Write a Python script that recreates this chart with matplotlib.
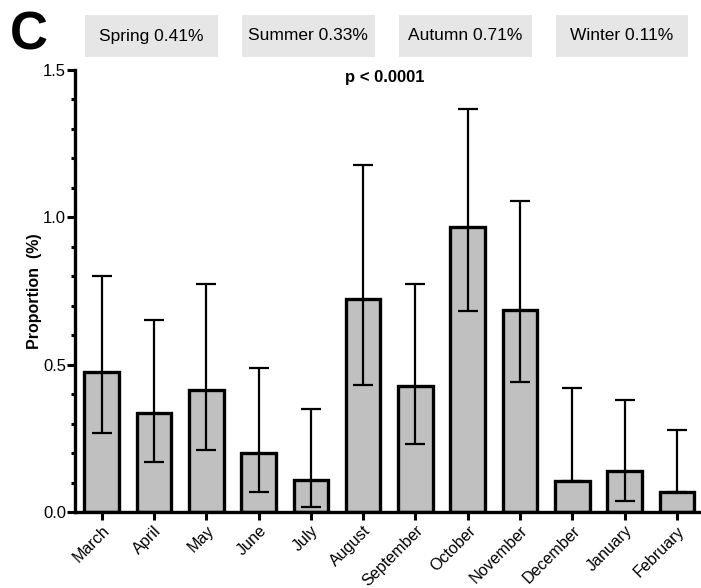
import matplotlib
matplotlib.use("Agg")
import matplotlib.pyplot as plt
import matplotlib.transforms as mtransforms
from matplotlib.patches import Rectangle
from matplotlib.ticker import MultipleLocator
import numpy as np

months = ["March", "April", "May", "June", "July", "August", "September",
          "October", "November", "December", "January", "February"]
proportion = [0.474, 0.336, 0.415, 0.200, 0.110, 0.723, 0.426, 0.968, 0.687, 0.106, 0.140, 0.069]
ci_upper = [0.802, 0.652, 0.773, 0.489, 0.349, 1.176, 0.773, 1.367, 1.055, 0.421, 0.380, 0.279]
ci_lower = [0.268, 0.168, 0.209, 0.067, 0.018, 0.431, 0.230, 0.682, 0.440, 0.106, 0.036, 0.069]
seasons = ["Spring 0.41%", "Summer 0.33%", "Autumn 0.71%", "Winter 0.11%"]
season_center_month = [1, 4, 7, 10]
p_text = "p < 0.0001"
panel = "C"

plt.rcParams['font.family'] = ['Liberation Sans', 'DejaVu Sans']

fig = plt.figure(figsize=(7.01, 5.88), dpi=100)
ax = fig.add_axes([75/701, 1-512/588, (701-75)/701, (512-70)/588])

x = np.arange(len(months))
prop = np.array(proportion)
up = np.array(ci_upper) - prop
lo = prop - np.array(ci_lower)

ax.bar(x, prop, width=0.66, color="#c0c0c0", edgecolor="black", linewidth=2.4, zorder=2)
ax.errorbar(x, prop, yerr=[lo, up], fmt="none", ecolor="black", elinewidth=1.6,
            capsize=7, capthick=1.6, zorder=3)

ax.set_xlim(-0.51, 11.46)
ax.set_ylim(0, 1.5)
ax.yaxis.set_minor_locator(MultipleLocator(0.1))
ax.set_yticks([0, 0.5, 1.0, 1.5])
ax.set_yticklabels(["0.0", "0.5", "1.0", "1.5"], fontsize=12)
ax.set_xticks(x)
ax.set_xticklabels(months, rotation=45, ha="right", va="top", rotation_mode="anchor", fontsize=11.6)
ax.tick_params(axis="both", which="major", direction="out", width=2.2, length=5.5)
ax.tick_params(axis="y", which="minor", direction="out", width=2.2, length=3)
ax.tick_params(axis="y", which="major", pad=1)
ax.tick_params(axis="x", which="major", pad=2.5)

for s in ["top", "right"]:
    ax.spines[s].set_visible(False)
for s in ["left", "bottom"]:
    ax.spines[s].set_linewidth(2.4)

ax.set_ylabel("Proportion  (%)", fontsize=11.5, fontweight="bold", labelpad=1)

ax.text(5.42, 1.475, p_text, ha="center", va="center", fontsize=12, fontweight="bold")

trans = mtransforms.blended_transform_factory(ax.transData, fig.transFigure)
for label, c in zip(seasons, season_center_month):
    w = 2.54
    rect = Rectangle((c - w/2 - 0.05, 1-57/588), w, 42/588, transform=trans,
                     facecolor="#e6e6e6", edgecolor="none", clip_on=False, zorder=0)
    ax.add_patch(rect)
    ax.text(c - 0.05, 1-36/588, label, transform=trans, ha="center", va="center",
            fontsize=12.5, clip_on=False, zorder=5)

fig.text(10/701, 1-36/588, panel, fontsize=38, fontweight="bold", ha="left", va="center")

fig.savefig("out.png", dpi=100)
